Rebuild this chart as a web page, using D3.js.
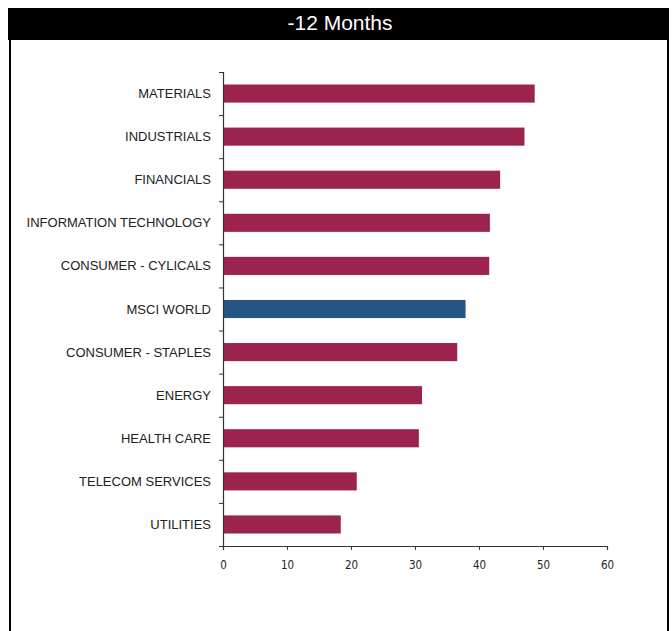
<!DOCTYPE html>
<html>
<head>
<meta charset="utf-8">
<script src="https://cdn.jsdelivr.net/npm/d3@7"></script>
<style>
  html, body { margin: 0; padding: 0; background: #fff; }
  svg { display: block; }
</style>
</head>
<body>
<svg id="chart" width="672" height="631"></svg>
<script>
// Sector performance over the last 12 months (%)
const categories = [
  "MATERIALS", "INDUSTRIALS", "FINANCIALS", "INFORMATION TECHNOLOGY",
  "CONSUMER - CYLICALS", "MSCI WORLD", "CONSUMER - STAPLES", "ENERGY",
  "HEALTH CARE", "TELECOM SERVICES", "UTILITIES"
];
const values = [48.7, 47.1, 43.3, 41.7, 41.6, 37.9, 36.6, 31.1, 30.6, 20.9, 18.4];
const benchmark = "MSCI WORLD";
const xTicks = [0, 10, 20, 30, 40, 50, 60];
const title = "-12 Months";

const svg = d3.select("#chart");
const W = 672, H = 631;

// frame: black title band plus side borders
svg.append("rect").attr("x", 8).attr("y", 8).attr("width", 661).attr("height", 32).attr("fill", "#000");
svg.append("line").attr("x1", 10).attr("x2", 10).attr("y1", 40).attr("y2", H)
  .attr("stroke", "#000").attr("stroke-width", 2);
svg.append("line").attr("x1", 668).attr("x2", 668).attr("y1", 40).attr("y2", H)
  .attr("stroke", "#000").attr("stroke-width", 2);
svg.append("text").attr("x", 340).attr("y", 30).attr("text-anchor", "middle")
  .attr("fill", "#fff").attr("font-family", "'Liberation Sans Narrow', 'Liberation Sans', sans-serif")
  .attr("font-size", 21).text(title);

const x = d3.scaleLinear().domain([0, 60]).range([223, 607]);
const y = d3.scaleBand().domain(categories).range([72, 546]).paddingInner(0.58).paddingOuter(0.29);
const yTicksScale = d3.scaleLinear().domain([0, categories.length]).range([72, 546]);

const axisColor = "#333";
const labelFont = "'Liberation Sans', Arial, sans-serif";
const tickFont = "'DejaVu Sans Condensed', 'DejaVu Sans', sans-serif";

// bars
svg.append("g").selectAll("rect").data(categories).join("rect")
  .attr("x", x(0))
  .attr("y", d => y(d))
  .attr("width", (d, i) => x(values[i]) - x(0))
  .attr("height", y.bandwidth())
  .attr("fill", d => d === benchmark ? "#265483" : "#9b234d");

// x axis
const xAxis = svg.append("g").attr("transform", "translate(0,546)")
  .call(d3.axisBottom(x).tickValues(xTicks).tickSize(4).tickSizeOuter(4).tickPadding(11));
xAxis.select(".domain").attr("stroke", axisColor).attr("stroke-width", 1.2);
xAxis.selectAll(".tick line").attr("stroke", axisColor);
xAxis.selectAll("text").attr("font-family", tickFont).attr("font-size", 11.5).attr("fill", "#222");

// y axis: line with ticks at band boundaries, labels at band centres
const yAxis = svg.append("g").attr("transform", "translate(223,0)")
  .call(d3.axisLeft(yTicksScale).ticks(categories.length).tickSize(4).tickFormat(""));
yAxis.select(".domain").attr("stroke", axisColor).attr("stroke-width", 1.2);
yAxis.selectAll(".tick line").attr("stroke", axisColor);

svg.append("g").selectAll("text").data(categories).join("text")
  .attr("x", 211)
  .attr("y", d => y(d) + y.bandwidth() / 2)
  .attr("dy", "0.35em")
  .attr("text-anchor", "end")
  .attr("font-family", labelFont)
  .attr("font-size", 13)
  .attr("fill", "#222")
  .text(d => d);
</script>
</body>
</html>
